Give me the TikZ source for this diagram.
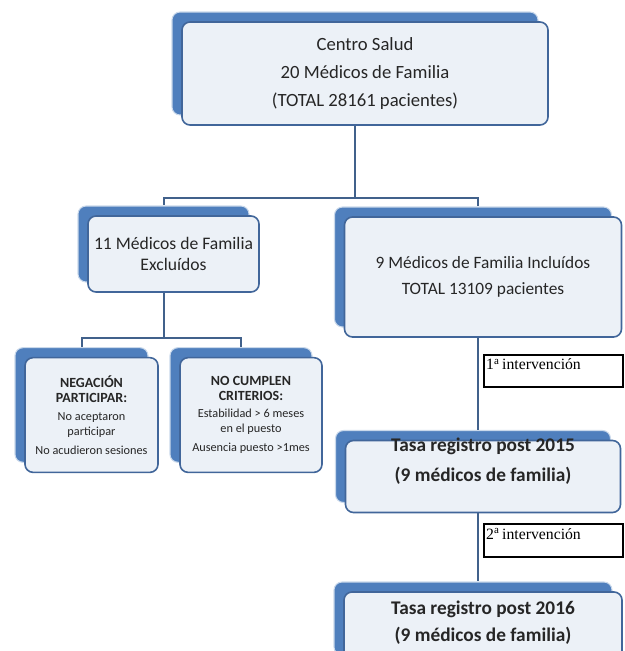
\documentclass[tikz,border=0pt]{standalone}
\usepackage{fontspec}
\setmainfont{Carlito}
\newfontfamily\timesfont{Liberation Serif}
\usepackage{tikz}
\definecolor{bandblue}{HTML}{4F7FBD}
\definecolor{boxfill}{HTML}{ECF1F7}
\definecolor{boxedge}{HTML}{41669A}
\definecolor{linkgray}{HTML}{41618B}
\definecolor{textgray}{HTML}{262626}
\newcommand{\hdr}[1]{{\fontsize{10.5}{12}\selectfont\bfseries #1}}
\newcommand{\liftline}[2]{\raisebox{#1}[0pt][0pt]{#2}}
\tikzset{%
    bluebox/.style={draw=boxedge, line width=1.2pt, fill=boxfill, rounded corners=6pt, align=center, text=textgray, inner sep=2pt,
        copy shadow={shadow xshift=-7.5pt, shadow yshift=7.5pt, fill=bandblue, draw=bandblue!30!white, line width=0.8pt}},
    link/.style={draw=linkgray, line width=1.5pt},
    notebox/.style={draw=black, line width=1.2pt, align=left, text width=101pt, inner xsep=1.6pt, inner ysep=0pt,
        font=\timesfont\fontsize{11.8}{13}\selectfont},
}
\usetikzlibrary{shadows}
\usetikzlibrary{positioning, calc}

\begin{document}
\begin{tikzpicture}[x=0.75pt, y=-0.75pt]
	\useasboundingbox (0,0) rectangle (625,651);

	\node[bluebox, minimum width=274.5pt, minimum height=77.25pt, font=\fontsize{14}{21}\selectfont] (centro) at (365,73.5) {Centro Salud\\20 Médicos de Familia\\(TOTAL 28161 pacientes)};

	\node[bluebox, minimum width=128.25pt, minimum height=57pt, font=\fontsize{13.2}{16}\selectfont] (excl) at (173.5,254) {11 Médicos de Familia\\Excluídos};
	\node[bluebox, minimum width=207.75pt, minimum height=90pt, font=\fontsize{13}{19.5}\selectfont] (incl) at (483,277) {9 Médicos de Familia Incluídos\\TOTAL 13109 pacientes};

	\node[bluebox, minimum width=99.75pt, minimum height=86pt, font=\fontsize{9.2}{11.2}\selectfont] (neg) at (91.5,415) {\hdr{NEGACIÓN}\\\hdr{PARTICIPAR:}\\[2pt]No aceptaron\\participar\\[3pt]No acudieron sesiones};
	\node[bluebox, minimum width=106.5pt, minimum height=86pt, font=\fontsize{9.2}{11.2}\selectfont] (crit) at (251,415) {\hdr{NO CUMPLEN}\\\hdr{CRITERIOS:}\\[2pt]Estabilidad > 6 meses\\en el puesto\\[3pt]Ausencia puesto >1mes};

	\node[bluebox, minimum width=206.25pt, minimum height=54pt, font=\fontsize{14.5}{22.5}\selectfont\bfseries] (t2015) at (483,476.5) {\liftline{7.4pt}{Tasa registro post 2015}\\\liftline{7.4pt}{(9 médicos de familia)}};
	\node[bluebox, minimum width=208.5pt, minimum height=54.75pt, font=\fontsize{14.5}{20.5}\selectfont\bfseries] (t2016) at (483,628.5) {\liftline{0.3pt}{Tasa registro post 2016}\\\liftline{0.3pt}{(9 médicos de familia)}};

	\node[notebox, minimum height=24pt] (int1) at (553.5,371) {1\textsuperscript{a}\,intervención\rule[-10pt]{0pt}{0pt}};
	\node[notebox, minimum height=24.75pt] (int2) at (553.5,540.5) {2\textsuperscript{a}\,intervención\rule[-10pt]{0pt}{0pt}};

	\draw[link] ([xshift=-7.5pt]centro.south) -- ++(0,72) -| ([shift={(-7.5pt,7.5pt)}]excl.north);
	\draw[link] ([xshift=-7.5pt]centro.south) -- ++(0,72) -| ([shift={(-3.75pt,7.5pt)}]incl.north);

	\draw[link] ([xshift=-7.5pt]excl.south) -- ++(0,45) -| ([shift={(-7.5pt,7.5pt)}]neg.north);
	\draw[link] ([xshift=-7.5pt]excl.south) -- ++(0,45) -| ([shift={(-7.5pt,7.5pt)}]crit.north);

	\draw[link] ([xshift=-3.75pt]incl.south) -- ([shift={(-3.75pt,7.5pt)}]t2015.north);
	\draw[link] ([xshift=-3.75pt]t2015.south) -- ([shift={(-3.75pt,7.5pt)}]t2016.north);
\end{tikzpicture}
\end{document}
